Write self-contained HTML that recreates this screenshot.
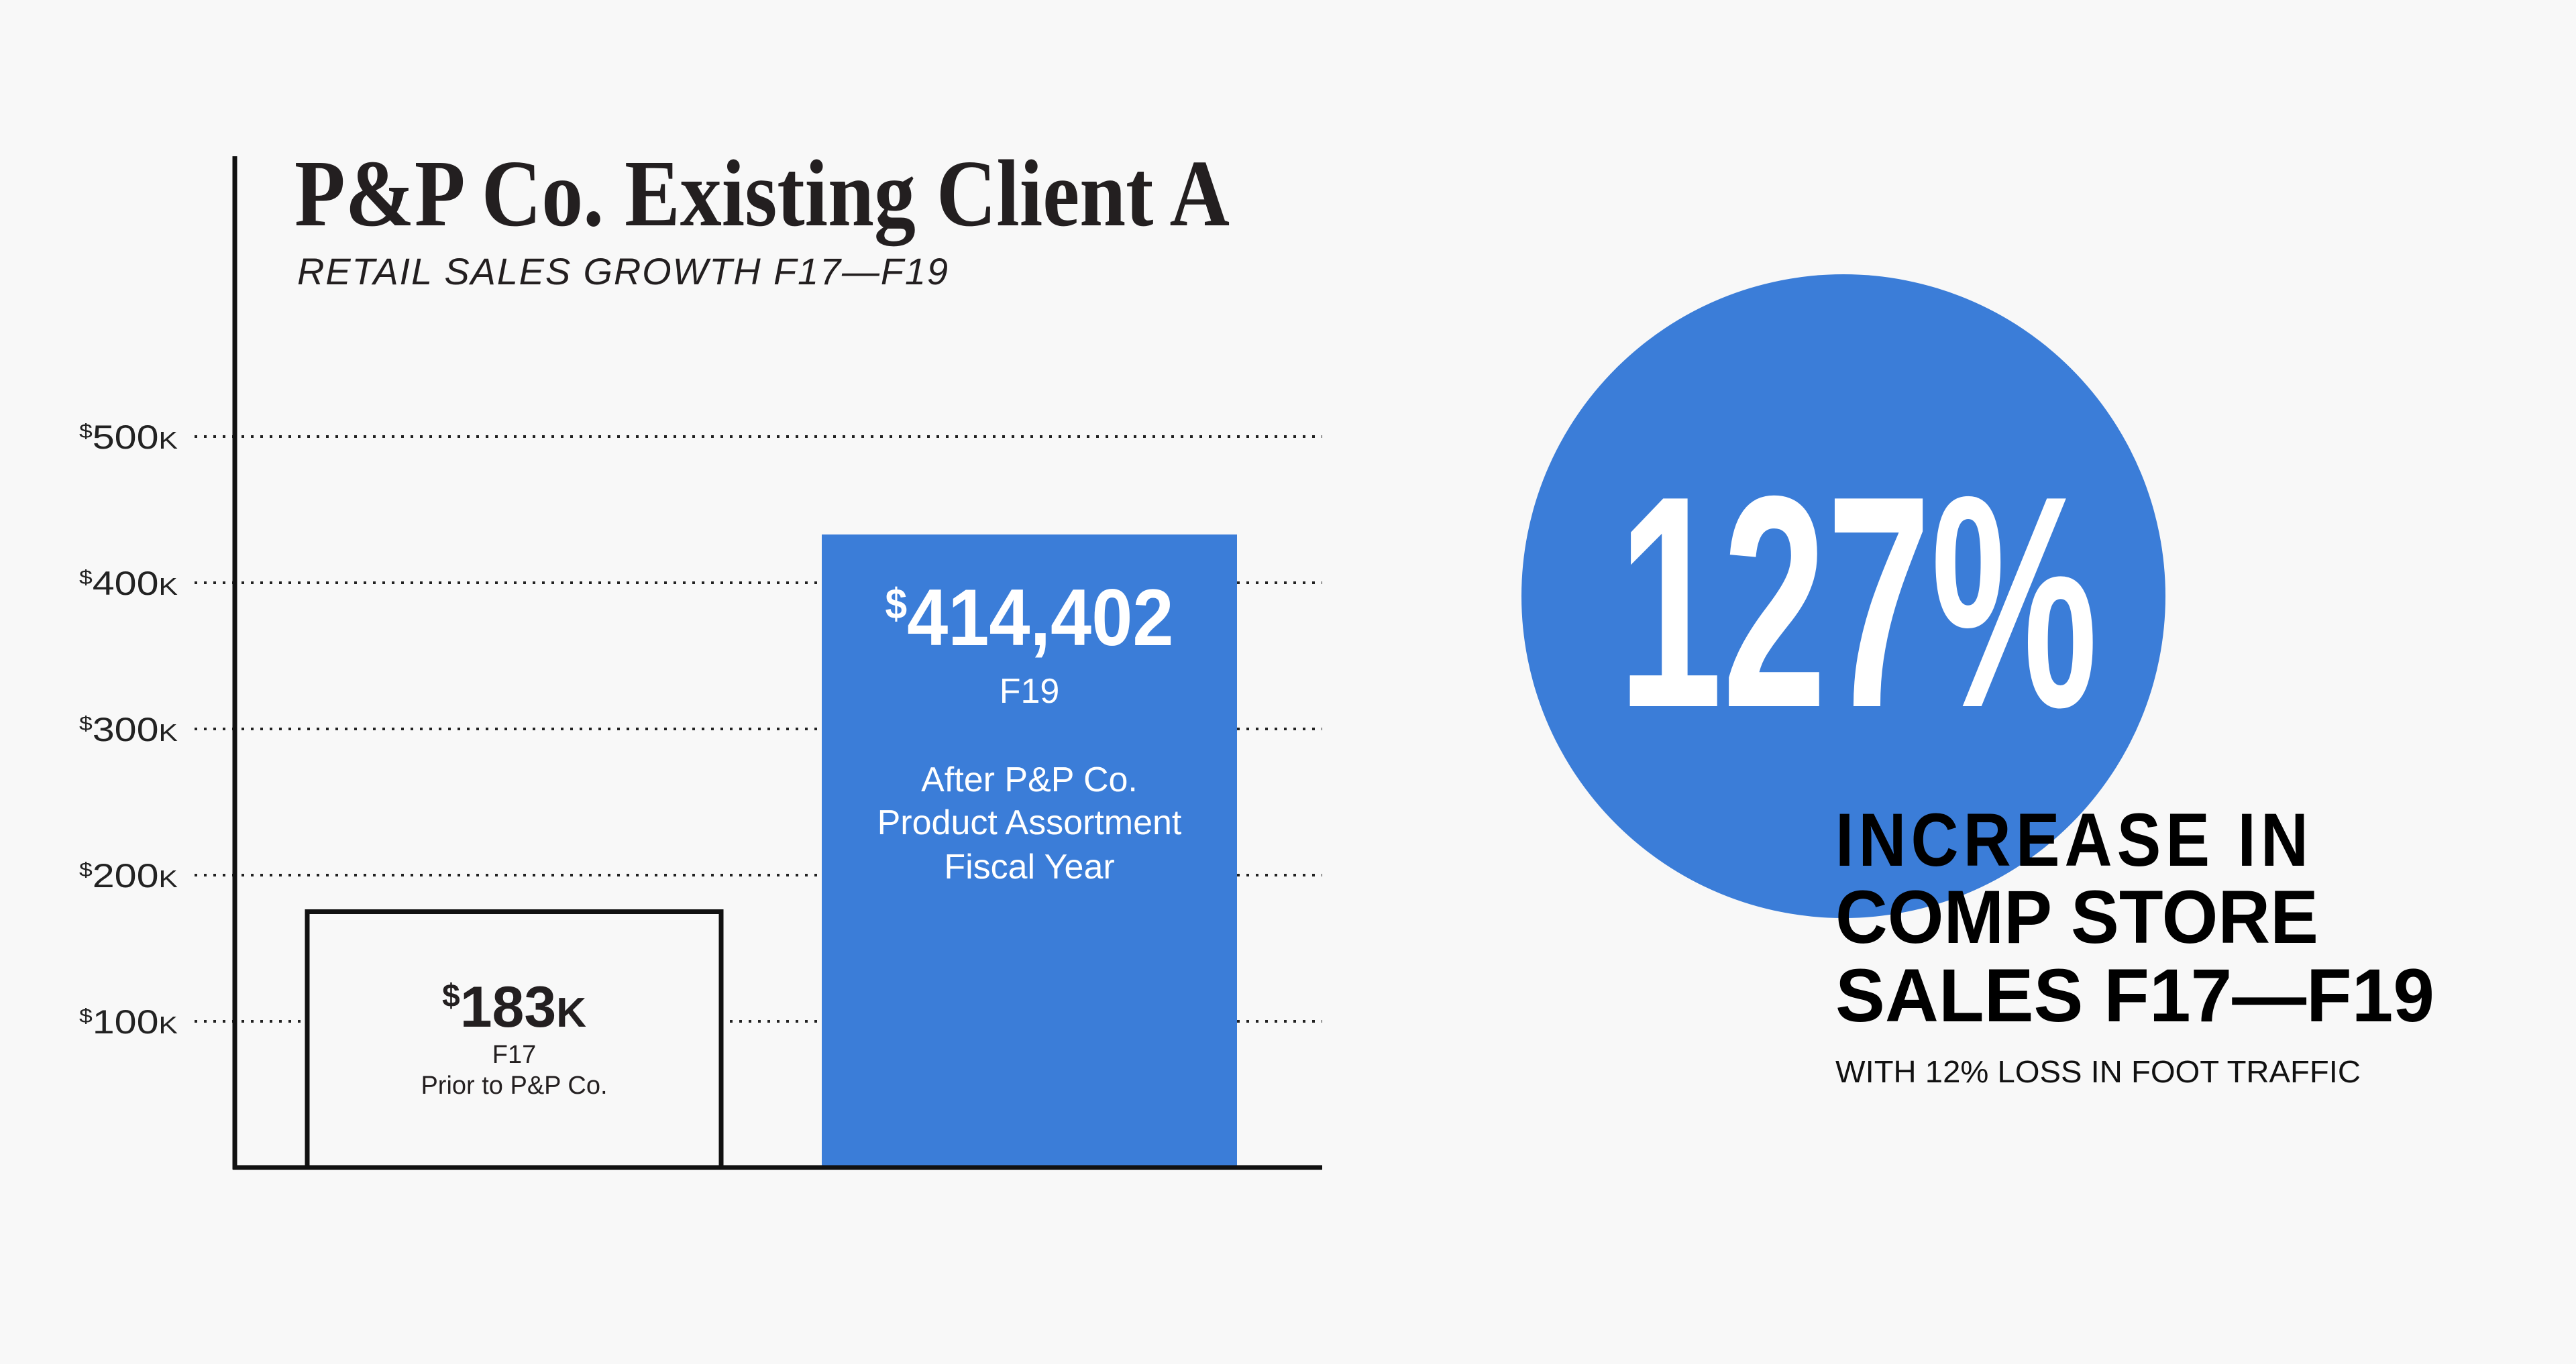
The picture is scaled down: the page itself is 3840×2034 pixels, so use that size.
<!DOCTYPE html>
<html><head><meta charset="utf-8"><style>
html,body{margin:0;padding:0;background:#f8f8f8;}
svg{display:block;}
</style></head><body>
<svg id="chart" width="3840" height="2034" viewBox="0 0 3840 2034" xmlns="http://www.w3.org/2000/svg">
<rect width="3840" height="2034" fill="#f8f8f8"/>
<g id="grid"></g>
<g id="ticks"></g>
<g id="bars"></g>
<line x1="350" y1="233" x2="350" y2="1744" stroke="#111" stroke-width="7"/>
<line x1="347" y1="1741" x2="1971" y2="1741" stroke="#111" stroke-width="7"/>
<text x="439" y="336" font-family="Liberation Serif, serif" font-weight="bold" font-size="142" fill="#231f20" textLength="1394" lengthAdjust="spacingAndGlyphs">P&amp;P Co. Existing Client A</text>
<text x="443" y="424" font-family="Liberation Sans, sans-serif" font-style="italic" font-size="56" fill="#231f20" textLength="970" lengthAdjust="spacing">RETAIL SALES GROWTH F17—F19</text>
<g id="labels"></g>
<circle cx="2748" cy="889" r="480" fill="#3b7dd8"/>
<text x="2412" y="1053" font-family="Liberation Sans, sans-serif" font-weight="bold" font-size="450" fill="#fff" textLength="715" lengthAdjust="spacingAndGlyphs">127%</text>
<g font-family="Liberation Sans, sans-serif" font-weight="900" font-size="112" fill="#000">
<text x="2736" y="1291" textLength="712" lengthAdjust="spacingAndGlyphs" letter-spacing="8">INCREASE IN</text>
<text x="2736" y="1406" textLength="720" lengthAdjust="spacingAndGlyphs">COMP STORE</text>
<text x="2736" y="1523" textLength="893" lengthAdjust="spacingAndGlyphs">SALES F17—F19</text>
</g>
<text x="2736" y="1614" font-family="Liberation Sans, sans-serif" font-size="46" fill="#111" textLength="783" lengthAdjust="spacingAndGlyphs">WITH 12% LOSS IN FOOT TRAFFIC</text>
</svg>
<script>
const tickValues = [100, 200, 300, 400, 500];
const tickLabels = ["100", "200", "300", "400", "500"];
const categories = ["F17", "F19"];
const barValues = [175, 433];
const valueLabels = ["183", "414,402"];
const NS = "http://www.w3.org/2000/svg";
const y0 = 1741, pxPerK = 2.18;
function yScale(v){ return y0 - v * pxPerK; }
const barX = [458, 1225], barW = [617, 619];
function mk(tag, attrs, parent){ const e=document.createElementNS(NS,tag); for(const k in attrs) e.setAttribute(k,attrs[k]); parent.appendChild(e); return e; }
const grid=document.getElementById('grid'), ticks=document.getElementById('ticks');
tickValues.forEach((v,i)=>{
  const y=yScale(v);
  const l=mk('line',{x1:290,y1:y,x2:1971,y2:y,stroke:'#222','stroke-width':4,'stroke-dasharray':'4 10'},grid);
  
  
  const t=mk('text',{x:118,y:y+18,'font-family':'Liberation Sans, sans-serif','font-size':50,fill:'#222',textLength:147,lengthAdjust:'spacingAndGlyphs'},ticks);
  
  
  const s=mk('tspan',{'font-size':30,dy:-16},t); s.textContent='$';
  const n=mk('tspan',{dy:16},t); n.textContent=tickLabels[i];
  const k=mk('tspan',{'font-size':36},t); k.textContent='K';
});
const bars=document.getElementById('bars'), labels=document.getElementById('labels');
categories.forEach((c,i)=>{
  const top=yScale(barValues[i]);
  const r = i===0 ? mk('rect',{x:barX[i],y:top,width:barW[i],height:y0-top,fill:'#f8f8f8',stroke:'#111','stroke-width':7},bars)
                  : mk('rect',{x:barX[i],y:top,width:barW[i],height:y0-top,fill:'#3b7dd8'},bars);
  
  
});
(function(){
  const cx=barX[0]+barW[0]/2;
  const t=mk('text',{x:cx,y:1531,'text-anchor':'middle','font-family':'Liberation Sans, sans-serif','font-weight':'bold','font-size':86,fill:'#231f20'},labels);
  
  
  mk('tspan',{'font-size':48,dy:-30},t).textContent='$';
  mk('tspan',{dy:30},t).textContent=valueLabels[0];
  mk('tspan',{'font-size':62},t).textContent='K';
  const a=mk('text',{x:cx,y:1585,'text-anchor':'middle','font-family':'Liberation Sans, sans-serif','font-size':38,fill:'#231f20'},labels);
  
  
  a.textContent=categories[0];
  const b=mk('text',{x:cx,y:1631,'text-anchor':'middle','font-family':'Liberation Sans, sans-serif','font-size':38,fill:'#231f20'},labels);
  
  
  b.textContent='Prior to P&P Co.';
})();
(function(){
  const cx=barX[1]+barW[1]/2;
  const t=mk('text',{x:cx,y:962,'text-anchor':'middle','font-family':'Liberation Sans, sans-serif','font-weight':'bold','font-size':120,fill:'#fff',textLength:430,lengthAdjust:'spacingAndGlyphs'},labels);
  
  
  mk('tspan',{'font-size':64,dy:-40},t).textContent='$';
  mk('tspan',{dy:40},t).textContent=valueLabels[1];
  const lines=[[categories[1],1048,'category-label-f19'],['After P&P Co.',1180,'f19-description-1'],['Product Assortment',1244,'f19-description-2'],['Fiscal Year',1310,'f19-description-3']];
  lines.forEach(L=>{
    const e=mk('text',{x:cx,y:L[1],'text-anchor':'middle','font-family':'Liberation Sans, sans-serif','font-size':52,fill:'#fff'},labels);
    
    
    e.textContent=L[0];
  });
})();
</script>
</body></html>
